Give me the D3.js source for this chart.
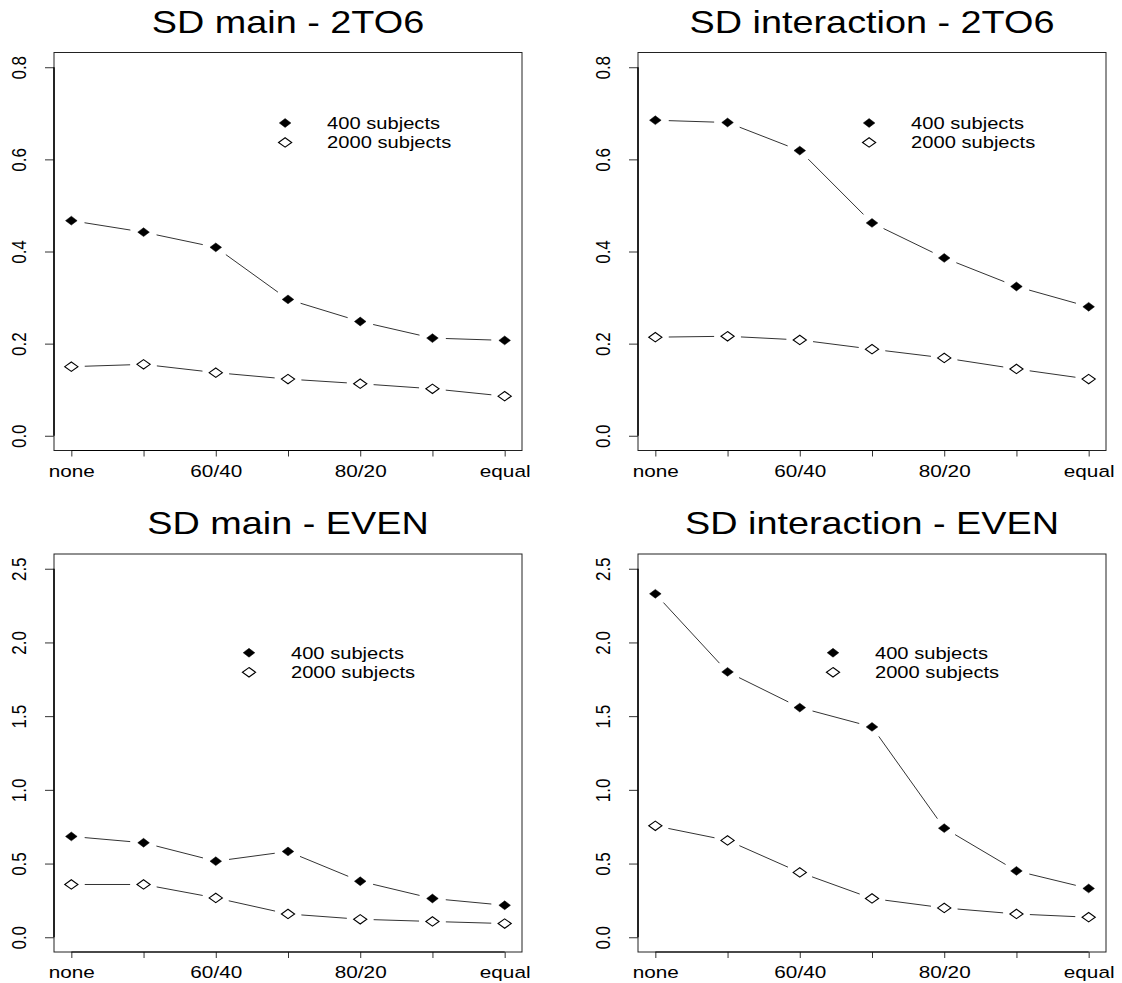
<!DOCTYPE html>
<html>
<head>
<meta charset="utf-8">
<script src="https://cdn.jsdelivr.net/npm/d3@7"></script>
<style>
  body { margin: 0; background: #fff; }
  svg { display: block; }
  text { font-family: "Liberation Sans", Arial, Helvetica, sans-serif; fill: #000; }
</style>
</head>
<body>
<svg width="1122" height="983"></svg>
<script>
// categories on the x axis (unlabelled ones were dropped by the original plot)
var categories = ["none", "", "60/40", "", "80/20", "", "equal"];
var seriesNames = ["400 subjects", "2000 subjects"];

// SD main - 2TO6
var main2to6_400  = [0.467, 0.442, 0.409, 0.296, 0.248, 0.212, 0.207];
var main2to6_2000 = [0.150, 0.155, 0.137, 0.123, 0.113, 0.102, 0.086];
// SD interaction - 2TO6
var int2to6_400  = [0.685, 0.680, 0.619, 0.462, 0.386, 0.324, 0.280];
var int2to6_2000 = [0.214, 0.216, 0.208, 0.188, 0.169, 0.145, 0.123];
// SD main - EVEN
var mainEven_400  = [0.684, 0.641, 0.516, 0.582, 0.380, 0.263, 0.217];
var mainEven_2000 = [0.358, 0.358, 0.267, 0.158, 0.122, 0.107, 0.093];
// SD interaction - EVEN
var intEven_400  = [2.33, 1.80, 1.558, 1.427, 0.740, 0.450, 0.331];
var intEven_2000 = [0.756, 0.657, 0.440, 0.263, 0.199, 0.158, 0.136];

var ticksTop = [0, 0.2, 0.4, 0.6, 0.8];
var ticksBottom = [0, 0.5, 1.0, 1.5, 2.0, 2.5];

var panels = [
  {title: "SD main - 2TO6", a: main2to6_400, b: main2to6_2000, ymax: 0.8, ticks: ticksTop,
   left: 54, top: 52.5, legX: 3.96, legY: 0.679},
  {title: "SD interaction - 2TO6", a: int2to6_400, b: int2to6_2000, ymax: 0.8, ticks: ticksTop,
   left: 638, top: 52.5, legX: 3.96, legY: 0.679},
  {title: "SD main - EVEN", a: mainEven_400, b: mainEven_2000, ymax: 2.5, ticks: ticksBottom,
   left: 54, top: 554, legX: 3.46, legY: 1.93},
  {title: "SD interaction - EVEN", a: intEven_400, b: intEven_2000, ymax: 2.5, ticks: ticksBottom,
   left: 638, top: 554, legX: 3.46, legY: 1.93}
];

var svg = d3.select("svg");
var boxW = 468, boxH = 398;
var SX = 1.22;     // the picture is stretched sideways
var GAP = 11;      // gap between line ends and points (unstretched px)
var lineColor = "#333";

function sText(g, x, y, str, size, anchor, rot) {
  return g.append("text")
    .attr("transform", "translate(" + x + "," + y + ") scale(" + SX + ",1)" + (rot ? " rotate(" + rot + ")" : ""))
    .attr("text-anchor", anchor || "middle")
    .style("font-size", size + "px")
    .text(str);
}

function diamond(filled) {
  var w = filled ? 5.8 : 6.6, h = filled ? 4.4 : 4.7;
  return "M0," + (-h) + "L" + w + ",0L0," + h + "L" + (-w) + ",0Z";
}

panels.forEach(function(p) {
  var g = svg.append("g").attr("transform", "translate(" + p.left + "," + p.top + ")");

  var x = d3.scaleLinear().domain([0.76, 7.24]).range([0, boxW]);
  var pad = p.ymax * 0.04;
  var y = d3.scaleLinear().domain([-pad, p.ymax + pad]).range([boxH, 0]);

  // title
  sText(g, boxW / 2, p.top < 100 ? 33 - p.top : 534 - p.top, p.title, 31, "middle");

  // box
  g.append("rect").attr("width", boxW).attr("height", boxH)
    .attr("fill", "none").attr("stroke", "#222").attr("stroke-width", 1);

  // y axis
  var ya = g.append("g").call(d3.axisLeft(y).tickValues(p.ticks).tickSize(9).tickFormat(d3.format(".1f")));
  ya.select(".domain").remove();
  ya.selectAll("line").attr("stroke", lineColor);
  ya.selectAll("text").remove();
  ya.selectAll(".tick").each(function(d) {
    sText(d3.select(this), -28, 0, d3.format(".1f")(d), 17, "middle", -90);
  });
  g.append("line").attr("x1", 0).attr("x2", 0)
    .attr("y1", y(0)).attr("y2", y(p.ymax)).attr("stroke", "#000").attr("stroke-width", 1.5);

  // x axis
  var xa = g.append("g").attr("transform", "translate(0," + boxH + ")")
    .call(d3.axisBottom(x).tickValues(d3.range(1, 8)).tickSize(6).tickFormat(function(d) { return categories[d - 1]; }));
  xa.select(".domain").remove();
  xa.selectAll("line").attr("stroke", lineColor);
  xa.selectAll("text").remove();
  xa.selectAll(".tick").each(function(d) {
    sText(d3.select(this), 0, 26, categories[d - 1], 17, "middle");
  });
  g.append("line").attr("y1", boxH).attr("y2", boxH)
    .attr("x1", x(1)).attr("x2", x(7)).attr("stroke", "#000").attr("stroke-width", 1.2);

  // lines with gaps around the points (R type = "b")
  [p.a, p.b].forEach(function(vals, si) {
    var pts = vals.map(function(v, i) { return [x(i + 1), y(v)]; });
    var segs = [];
    for (var i = 0; i < pts.length - 1; i++) {
      var dx = pts[i + 1][0] - pts[i][0], dy = pts[i + 1][1] - pts[i][1];
      var L = Math.sqrt((dx / SX) * (dx / SX) + dy * dy);
      if (L > 2 * GAP) {
        var f = GAP / L;
        segs.push([pts[i][0] + dx * f, pts[i][1] + dy * f, pts[i + 1][0] - dx * f, pts[i + 1][1] - dy * f]);
      }
    }
    g.append("g").selectAll("line").data(segs).enter().append("line")
      .attr("x1", function(s) { return s[0]; }).attr("y1", function(s) { return s[1]; })
      .attr("x2", function(s) { return s[2]; }).attr("y2", function(s) { return s[3]; })
      .attr("stroke", lineColor).attr("stroke-width", 1);

    g.append("g").selectAll("path").data(pts).enter().append("path")
      .attr("transform", function(d) { return "translate(" + d[0] + "," + d[1] + ")"; })
      .attr("d", diamond(si === 0))
      .attr("fill", si === 0 ? "#000" : "#fff")
      .attr("stroke", "#000").attr("stroke-width", si === 0 ? 0.5 : 1.1);
  });

  // legend, no box
  var lx = x(p.legX), ly = y(p.legY);
  seriesNames.forEach(function(name, i) {
    var yy = ly + i * 19.5;
    g.append("path").attr("transform", "translate(" + lx + "," + yy + ")")
      .attr("d", diamond(i === 0))
      .attr("fill", i === 0 ? "#000" : "#fff")
      .attr("stroke", "#000").attr("stroke-width", i === 0 ? 0.5 : 1.1);
    sText(g, lx + 42, yy + 6, name, 16.5, "start");
  });
});
</script>
</body>
</html>
